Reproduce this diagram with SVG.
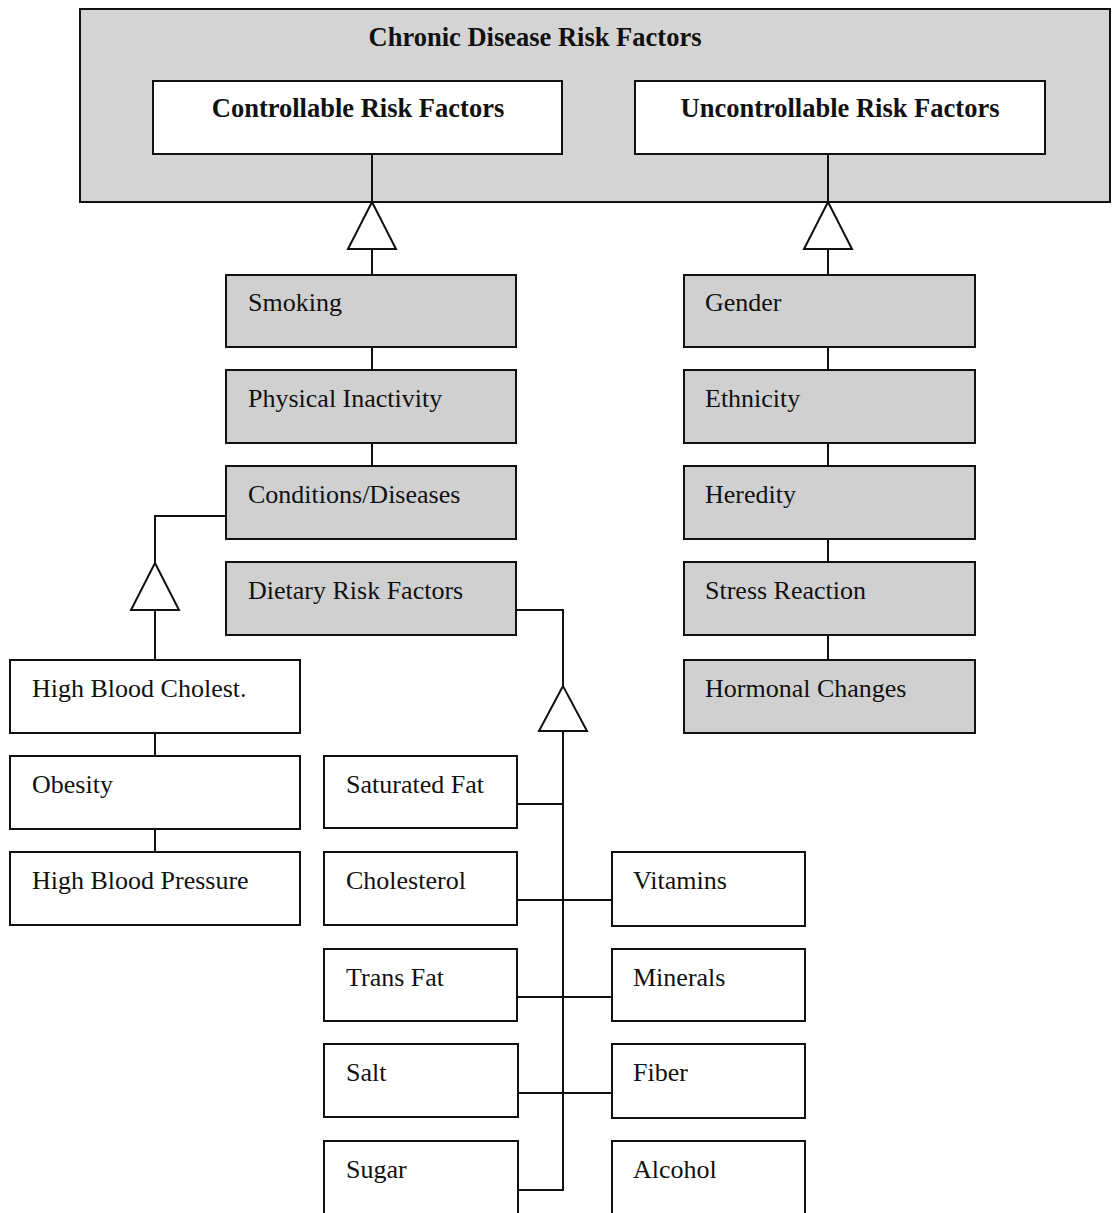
<svg xmlns="http://www.w3.org/2000/svg" width="1112" height="1213" viewBox="0 0 1112 1213">
<style>
.box{stroke:#111;stroke-width:2;fill:#fff}
.g{fill:#d0d0d0}
.outer{fill:#d4d4d4;stroke:#111;stroke-width:2}
.lbl{font-family:"Liberation Serif","Times New Roman",serif;font-size:26px;fill:#111}
.hd{font-family:"Liberation Serif","Times New Roman",serif;font-size:26.5px;font-weight:bold;fill:#111;text-anchor:middle}
.c{stroke:#111;stroke-width:2;fill:none}
.tri{stroke:#111;stroke-width:2;fill:#fff}
</style>
<rect width="1112" height="1213" fill="#fff"/>
<g id="chronic">
<rect class="outer" x="80" y="9" width="1030" height="193"/>
<text class="hd" x="535" y="46">Chronic Disease Risk Factors</text>
</g>
<g id="controllable">
<rect class="box" x="153" y="81" width="409" height="73"/>
<text class="hd" x="358" y="117">Controllable Risk Factors</text>
</g>
<g id="uncontrollable">
<rect class="box" x="635" y="81" width="410" height="73"/>
<text class="hd" x="840" y="117">Uncontrollable Risk Factors</text>
</g>
<g id="connectors">
<path class="c" d="M372 154V202M372 249V275M372 347V370M372 443V466"/>
<path class="tri" d="M372 202L348 249H396Z"/>
<path class="c" d="M828 154V202M828 249V275M828 347V370M828 443V466M828 539V562M828 635V660"/>
<path class="tri" d="M828 202L804 249H852Z"/>
<path class="c" d="M226 516H155V563M155 610V660M155 733V756M155 829V852"/>
<path class="tri" d="M155 563L131 610H179Z"/>
<path class="c" d="M516 610H563V686M563 731V1190H518M517 804H563M517 900H612M517 997H612M518 1093H612"/>
<path class="tri" d="M563 686L539 731H587Z"/>
</g>
<g id="smoking"><rect class="box g" x="226" y="275" width="290" height="72"/><text class="lbl" x="248" y="311">Smoking</text></g>
<g id="physical-inactivity"><rect class="box g" x="226" y="370" width="290" height="73"/><text class="lbl" x="248" y="407">Physical Inactivity</text></g>
<g id="conditions-diseases"><rect class="box g" x="226" y="466" width="290" height="73"/><text class="lbl" x="248" y="503">Conditions/Diseases</text></g>
<g id="dietary-risk-factors"><rect class="box g" x="226" y="562" width="290" height="73"/><text class="lbl" x="248" y="599">Dietary Risk Factors</text></g>
<g id="gender"><rect class="box g" x="684" y="275" width="291" height="72"/><text class="lbl" x="705" y="311">Gender</text></g>
<g id="ethnicity"><rect class="box g" x="684" y="370" width="291" height="73"/><text class="lbl" x="705" y="407">Ethnicity</text></g>
<g id="heredity"><rect class="box g" x="684" y="466" width="291" height="73"/><text class="lbl" x="705" y="503">Heredity</text></g>
<g id="stress-reaction"><rect class="box g" x="684" y="562" width="291" height="73"/><text class="lbl" x="705" y="599">Stress Reaction</text></g>
<g id="hormonal-changes"><rect class="box g" x="684" y="660" width="291" height="73"/><text class="lbl" x="705" y="697">Hormonal Changes</text></g>
<g id="high-blood-cholest"><rect class="box" x="10" y="660" width="290" height="73"/><text class="lbl" x="32" y="697">High Blood Cholest.</text></g>
<g id="obesity"><rect class="box" x="10" y="756" width="290" height="73"/><text class="lbl" x="32" y="793">Obesity</text></g>
<g id="high-blood-pressure"><rect class="box" x="10" y="852" width="290" height="73"/><text class="lbl" x="32" y="889">High Blood Pressure</text></g>
<g id="saturated-fat"><rect class="box" x="324" y="756" width="193" height="72"/><text class="lbl" x="346" y="793">Saturated Fat</text></g>
<g id="cholesterol"><rect class="box" x="324" y="852" width="193" height="73"/><text class="lbl" x="346" y="889">Cholesterol</text></g>
<g id="trans-fat"><rect class="box" x="324" y="949" width="193" height="72"/><text class="lbl" x="346" y="986">Trans Fat</text></g>
<g id="salt"><rect class="box" x="324" y="1044" width="194" height="73"/><text class="lbl" x="346" y="1081">Salt</text></g>
<g id="sugar"><rect class="box" x="324" y="1141" width="194" height="80"/><text class="lbl" x="346" y="1178">Sugar</text></g>
<g id="vitamins"><rect class="box" x="612" y="852" width="193" height="74"/><text class="lbl" x="633" y="889">Vitamins</text></g>
<g id="minerals"><rect class="box" x="612" y="949" width="193" height="72"/><text class="lbl" x="633" y="986">Minerals</text></g>
<g id="fiber"><rect class="box" x="612" y="1044" width="193" height="74"/><text class="lbl" x="633" y="1081">Fiber</text></g>
<g id="alcohol"><rect class="box" x="612" y="1141" width="193" height="80"/><text class="lbl" x="633" y="1178">Alcohol</text></g>
</svg>
